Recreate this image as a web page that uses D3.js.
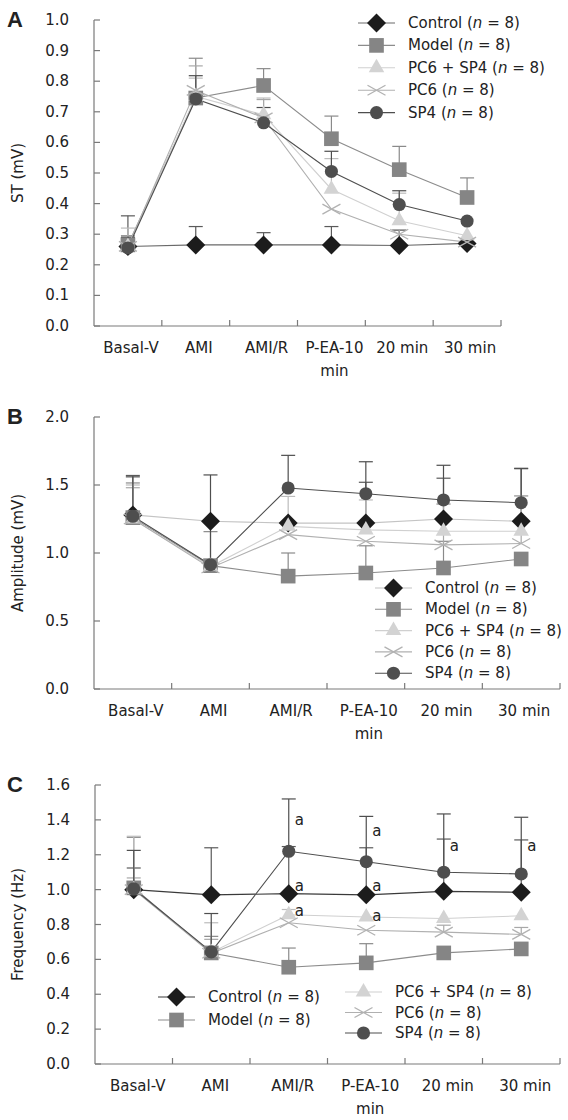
<!DOCTYPE html>
<html><head><meta charset="utf-8">
<script src="https://cdn.jsdelivr.net/npm/d3@7"></script>
<style>
html,body{margin:0;padding:0;background:#fff;}
svg text{font-family:"DejaVu Sans",Verdana,sans-serif;fill:#222;}
</style></head>
<body>
<svg id="chart" width="568" height="1120"></svg>
<script>
// ---------- data ----------
const categories = ["Basal-V","AMI","AMI/R","P-EA-10 min","20 min","30 min"];
const categoryLines = [["Basal-V"],["AMI"],["AMI/R"],["P-EA-10","min"],["20 min"],["30 min"]];
const seriesNames = ["Control","Model","PC6 + SP4","PC6","SP4"];

// Panel A: ST (mV)  rows: Control, Model, PC6+SP4, PC6, SP4
const stMeans = [
  [0.260,0.265,0.265,0.265,0.263,0.270],
  [0.265,0.745,0.786,0.612,0.511,0.420],
  [0.260,0.750,0.690,0.447,0.344,0.295],
  [0.260,0.770,0.680,0.382,0.300,0.274],
  [0.255,0.742,0.664,0.505,0.397,0.343]
];
const stErr = [
  [0.100,0.060,0.040,0.060,0.050,null],
  [0.030,0.130,0.055,0.074,0.076,0.064],
  [0.060,0.060,0.055,0.100,0.090,null],
  [0.030,0.080,0.060,null,0.015,null],
  [0.035,0.076,0.050,0.066,0.045,null]
];
const stTicks = [0,0.1,0.2,0.3,0.4,0.5,0.6,0.7,0.8,0.9,1.0];

// Panel B: Amplitude (mV)
const ampMeans = [
  [1.280,1.233,1.220,1.220,1.250,1.233],
  [1.260,0.907,0.830,0.853,0.890,0.956],
  [1.250,0.900,1.196,1.170,1.160,1.160],
  [1.250,0.890,1.135,1.086,1.060,1.070],
  [1.270,0.914,1.478,1.436,1.390,1.370]
];
const ampErr = [
  [0.290,null,null,0.300,0.300,0.390],
  [0.255,0.250,0.170,0.200,0.196,null],
  [0.250,null,0.220,0.220,0.200,0.260],
  [0.230,null,null,null,0.300,0.350],
  [0.290,0.660,0.240,0.235,0.255,0.250]
];
const ampTicks = [0,0.5,1.0,1.5,2.0];

// Panel C: Frequency (Hz)
const freqMeans = [
  [1.000,0.970,0.977,0.970,0.990,0.985],
  [1.010,0.637,0.555,0.580,0.637,0.660],
  [1.000,0.640,0.856,0.843,0.834,0.850],
  [1.000,0.635,0.810,0.767,0.756,0.743],
  [1.005,0.643,1.220,1.160,1.100,1.090]
];
const freqErr = [
  [0.124,0.270,0.270,0.270,0.300,0.300],
  [0.290,0.095,0.110,0.110,null,null],
  [0.306,0.170,0.030,null,null,null],
  [0.067,0.080,null,null,0.040,0.040],
  [0.220,0.220,0.300,0.260,0.334,0.325]
];
const freqTicks = [0,0.2,0.4,0.6,0.8,1.0,1.2,1.4,1.6];
// significance marks "a": [category index, value level]
const freqMarks = [[2,1.40],[2,1.02],[2,0.875],[3,1.335],[3,1.023],[3,0.85],[4,1.25],[5,1.25]];

// ---------- styles ----------
const markerFill   = ["#1c1c1c","#858585","#d3d3d3","none","#4e4e4e"];
const markerStroke = ["none","none","none","#b2b2b2","none"];
const lineColor    = ["#5e5e5e","#8c8c8c","#d0d0d0","#b0b0b0","#4e4e4e"];
const errColor     = ["#5a5a5a","#8a8a8a","#bcbcbc","#a8a8a8","#4e4e4e"];
const axisColor = "#7a7a7a";

function markerPath(i){
  if(i===0) return "M0,-9.5L9.5,0L0,9.5L-9.5,0Z";
  if(i===1) return d3.symbol(d3.symbolSquare, 215)();
  if(i===2) return d3.symbol(d3.symbolTriangle, 105)();
  if(i===3) return "M-9,-5L9,5M-9,5L9,-5";
  return d3.symbol(d3.symbolCircle, 135)();
}

const svg = d3.select("#chart");

function drawPanel(cfg){
  const g = svg.append("g");
  const x = d3.scaleBand().domain(categories).range([cfg.left, cfg.right]);
  const y = d3.scaleLinear().domain(cfg.domain).range([cfg.bottom, cfg.top]);
  const cx = c => x(c) + x.bandwidth()/2;

  // y axis
  g.append("line").attr("x1",cfg.left).attr("x2",cfg.left).attr("y1",y(cfg.domain[0])).attr("y2",y(cfg.domain[1]))
    .attr("stroke",axisColor).attr("stroke-width",1.2);
  cfg.ticks.forEach(t=>{
    g.append("line").attr("x1",cfg.left).attr("x2",cfg.left+6).attr("y1",y(t)).attr("y2",y(t))
      .attr("stroke",axisColor).attr("stroke-width",1.2);
    g.append("text").attr("x",cfg.left-25).attr("y",y(t)).attr("text-anchor","end")
      .attr("dominant-baseline","central").attr("font-size",15).text(t.toFixed(1));
  });
  // x axis
  g.append("line").attr("x1",cfg.left).attr("x2",cfg.right).attr("y1",cfg.bottom).attr("y2",cfg.bottom)
    .attr("stroke",axisColor).attr("stroke-width",1.2);
  categories.forEach((c,i)=>{
    const xe = x(c)+x.bandwidth();
    g.append("line").attr("x1",xe).attr("x2",xe).attr("y1",cfg.bottom).attr("y2",cfg.bottom-6)
      .attr("stroke",axisColor).attr("stroke-width",1.2);
    const tx = g.append("text").attr("x",cx(c)+cfg.labelDx).attr("y",cfg.bottom+22)
      .attr("text-anchor","middle").attr("dominant-baseline","central").attr("font-size",15);
    categoryLines[i].forEach((ln,k)=>{
      tx.append("tspan").attr("x",cx(c)+cfg.labelDx).attr("dy",k===0?0:23).text(ln);
    });
  });
  // titles
  g.append("text").attr("x",7).attr("y",cfg.top-1).attr("dominant-baseline","central")
    .attr("font-family","Liberation Sans, Arial, sans-serif").style("font-family","Liberation Sans, Arial, sans-serif")
    .attr("font-weight","bold").attr("font-size",22).text(cfg.letter);
  g.append("text").attr("transform",`translate(18,${(cfg.top+cfg.bottom)/2}) rotate(-90)`)
    .attr("text-anchor","middle").attr("dominant-baseline","central").attr("font-size",15).text(cfg.title);

  const means = cfg.means, errs = cfg.errs;
  // error bars
  means.forEach((row,s)=>{
    row.forEach((v,j)=>{
      const e = errs[s][j];
      if(e==null) return;
      const px = cx(categories[j]);
      g.append("line").attr("x1",px).attr("x2",px).attr("y1",y(v)).attr("y2",y(v+e))
        .attr("stroke",errColor[s]).attr("stroke-width",1.2);
      g.append("line").attr("x1",px-7).attr("x2",px+7).attr("y1",y(v+e)).attr("y2",y(v+e))
        .attr("stroke",errColor[s]).attr("stroke-width",1.2);
    });
  });
  // lines
  const line = d3.line().x((d,j)=>cx(categories[j])).y(d=>y(d));
  means.forEach((row,s)=>{
    g.append("path").attr("d",line(row)).attr("fill","none")
      .attr("stroke", s===0 ? cfg.controlLine : lineColor[s]).attr("stroke-width",1.1);
  });
  // markers
  means.forEach((row,s)=>{
    row.forEach((v,j)=>{
      g.append("path").attr("d",markerPath(s)).attr("transform",`translate(${cx(categories[j])},${y(v)})`)
        .attr("fill",markerFill[s]).attr("stroke",markerStroke[s]).attr("stroke-width",1.3);
    });
  });
  // annotation marks
  (cfg.marks||[]).forEach(([j,v])=>{
    g.append("text").attr("x",cx(categories[j])+6).attr("y",y(v)).attr("dominant-baseline","central")
      .attr("font-size",15).text("a");
  });
  // legend
  cfg.legend.forEach(L=>{
    L.items.forEach((s,k)=>{
      const ly = L.y + k*L.dy;
      g.append("line").attr("x1",L.x).attr("x2",L.x+37).attr("y1",ly).attr("y2",ly)
        .attr("stroke", s===0 ? cfg.controlLine : lineColor[s]).attr("stroke-width",1.1);
      g.append("path").attr("d",markerPath(s)).attr("transform",`translate(${L.x+18.5},${ly})`)
        .attr("fill",markerFill[s]).attr("stroke",markerStroke[s]).attr("stroke-width",1.3);
      const t = g.append("text").attr("x",L.x+50).attr("y",ly).attr("dominant-baseline","central").attr("font-size",15);
      t.append("tspan").text(seriesNames[s]+" (");
      t.append("tspan").attr("font-style","italic").text("n");
      t.append("tspan").text(" = 8)");
    });
  });
}

drawPanel({letter:"A", title:"ST (mV)", top:20, bottom:326, left:94, right:501, domain:[0,1.0], ticks:stTicks,
  means:stMeans, errs:stErr, controlLine:"#6a6a6a", labelDx:3,
  legend:[{x:358, y:23, dy:22.4, items:[0,1,2,3,4]}]});
drawPanel({letter:"B", title:"Amplitude (mV)", top:417, bottom:689, left:94, right:560, domain:[0,2.0], ticks:ampTicks,
  means:ampMeans, errs:ampErr, controlLine:"#c4c4c4", labelDx:3,
  legend:[{x:375, y:588, dy:21.3, items:[0,1,2,3,4]}]});
drawPanel({letter:"C", title:"Frequency (Hz)", top:785, bottom:1064, left:95, right:560, domain:[0,1.6], ticks:freqTicks,
  means:freqMeans, errs:freqErr, controlLine:"#3a3a3a", labelDx:4, marks:freqMarks,
  legend:[{x:158, y:997, dy:23, items:[0,1]},{x:345, y:992, dy:20.5, items:[2,3,4]}]});
</script>
</body></html>
